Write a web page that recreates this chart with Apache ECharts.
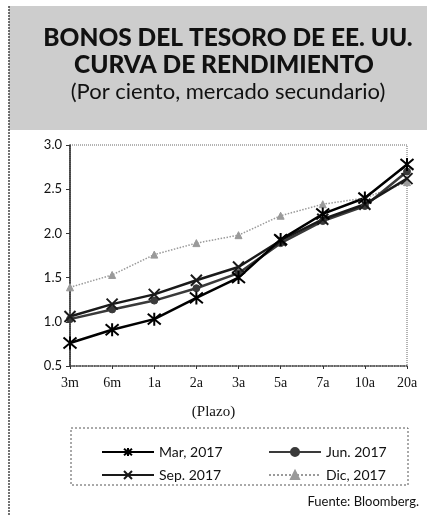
<!DOCTYPE html>
<html>
<head>
<meta charset="utf-8">
<script src="https://cdn.jsdelivr.net/npm/echarts@6/dist/echarts.min.js"></script>
<style>
  html, body { margin: 0; padding: 0; background: #fff; }
  #chart { width: 427px; height: 515px; }
</style>
</head>
<body>
<div id="chart"></div>
<script>
const plazos = ['3m', '6m', '1a', '2a', '3a', '5a', '7a', '10a', '20a']
const mar2017 = [0.76, 0.91, 1.03, 1.27, 1.50, 1.93, 2.22, 2.40, 2.78]
const jun2017 = [1.03, 1.14, 1.24, 1.38, 1.55, 1.89, 2.14, 2.31, 2.70]
const sep2017 = [1.06, 1.20, 1.31, 1.47, 1.62, 1.92, 2.16, 2.33, 2.62]
const dic2017 = [1.39, 1.53, 1.76, 1.89, 1.98, 2.20, 2.33, 2.40, 2.58]

// asterisk and cross markers
const starPath = 'path://M0,0L10,10M10,0L0,10M5,-1L5,11'
const crossPath = 'path://M0,0L10,10M10,0L0,10'

const sans = 'Lato'
const serif = 'Liberation Serif'

const chart = echarts.init(document.getElementById('chart'))

function serie(name, data, color, width, symbol, size, type) {
  return {
    name: name,
    type: 'line',
    data: data,
    symbol: symbol,
    symbolSize: size,
    showAllSymbol: true,
    lineStyle: { color: color, width: width, type: type || 'solid' },
    itemStyle: { color: color, borderColor: color, borderWidth: symbol.indexOf('path') === 0 ? 2 : 1 },
    emphasis: { disabled: true },
    animation: false
  }
}

function leyenda(name, left, top) {
  return {
    data: [name],
    left: left,
    top: top,
    itemWidth: 52,
    itemHeight: 10,
    textStyle: { fontFamily: sans, fontSize: 14, color: '#111' },
    selectedMode: false
  }
}

chart.setOption({
  backgroundColor: '#fff',
  graphic: [
    { type: 'rect', shape: { x: 9, y: 6, width: 418, height: 124 }, style: { fill: '#cdcdcd' }, silent: true },
    { type: 'line', shape: { x1: 9, y1: 6, x2: 9, y2: 515 }, style: { stroke: '#444', lineWidth: 1.5, lineDash: [2, 1] }, silent: true },
    { type: 'text', x: 228, y: 38, style: { text: 'BONOS DEL TESORO DE EE. UU.', align: 'center', verticalAlign: 'middle', fontFamily: sans, fontWeight: 900, fontSize: 24.5, fill: '#111' } },
    { type: 'text', x: 224, y: 65, style: { text: 'CURVA DE RENDIMIENTO', align: 'center', verticalAlign: 'middle', fontFamily: sans, fontWeight: 900, fontSize: 24.5, fill: '#111' } },
    { type: 'text', x: 228, y: 92, style: { text: '(Por ciento, mercado secundario)', align: 'center', verticalAlign: 'middle', fontFamily: sans, fontSize: 22, fill: '#111' } },
    { type: 'text', left: 'center', top: 405, style: { text: '(Plazo)', fontFamily: serif, fontSize: 15, fill: '#111' } },
    { type: 'rect', shape: { x: 71, y: 428, width: 337, height: 57 }, style: { fill: 'none', stroke: '#555', lineWidth: 1, lineDash: [2, 2] }, silent: true },
    { type: 'text', right: 8, top: 495, style: { text: 'Fuente: Bloomberg.', fontFamily: sans, fontSize: 13, fill: '#111' } }
  ],
  grid: {
    left: 70, right: 20, top: 145, bottom: 149,
    show: true, borderColor: '#666', borderWidth: 1, borderType: 'dotted'
  },
  xAxis: {
    type: 'category',
    data: plazos,
    boundaryGap: false,
    axisLine: { lineStyle: { color: '#444', type: 'dotted', width: 1.5 } },
    axisTick: { show: true, length: 3, alignWithLabel: true, lineStyle: { color: '#333' } },
    axisLabel: { fontFamily: serif, fontSize: 14, color: '#111', margin: 10, interval: 0 },
    splitLine: { show: false }
  },
  yAxis: {
    type: 'value',
    min: 0.5, max: 3.0, interval: 0.5,
    axisLine: { show: true, lineStyle: { color: '#222', width: 1.5 } },
    axisTick: { show: true, length: 4, lineStyle: { color: '#333' } },
    axisLabel: { fontFamily: sans, fontSize: 13, color: '#111', margin: 8, formatter: v => v.toFixed(1) },
    splitLine: { show: false }
  },
  legend: [
    leyenda('Mar, 2017', 96, 440),
    leyenda('Jun. 2017', 263, 440),
    leyenda('Sep. 2017', 96, 463),
    leyenda('Dic, 2017', 263, 463)
  ],
  series: [
    serie('Dic, 2017', dic2017, '#9a9a9a', 1.5, 'triangle', 7, 'dotted'),
    serie('Jun. 2017', jun2017, '#3a3a3a', 2.5, 'circle', 7),
    serie('Sep. 2017', sep2017, '#1a1a1a', 2.5, crossPath, 11),
    serie('Mar, 2017', mar2017, '#000', 2.5, starPath, 13)
  ]
})
</script>
</body>
</html>
